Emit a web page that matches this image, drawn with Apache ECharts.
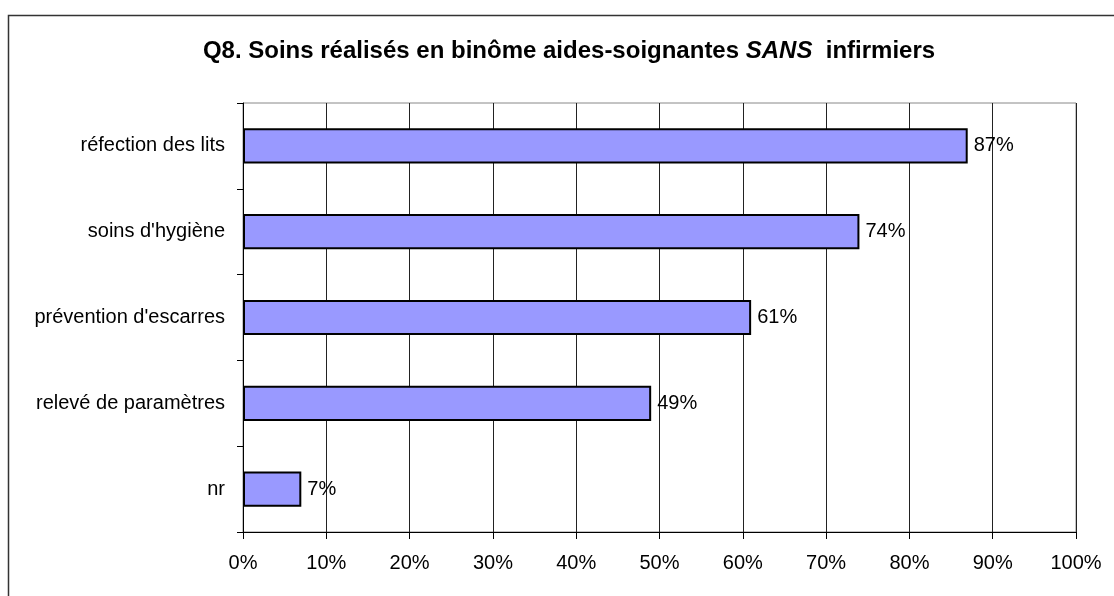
<!DOCTYPE html>
<html>
<head>
<meta charset="utf-8">
<script src="https://cdn.jsdelivr.net/npm/echarts@6/dist/echarts.min.js"></script>
<style>
html,body{margin:0;padding:0;background:#fff;}
#chart{width:1114px;height:596px;}
</style>
</head>
<body>
<div id="chart"></div>
<script>
const categories = ["réfection des lits", "soins d'hygiène", "prévention d'escarres", "relevé de paramètres", "nr"];
const values = [87, 74, 61, 49, 7];
const xTicks = [0, 10, 20, 30, 40, 50, 60, 70, 80, 90, 100];

const FONT = '"Liberation Sans", Arial, sans-serif';
const chart = echarts.init(document.getElementById('chart'));
chart.setOption({
  animation: false,
  backgroundColor: '#ffffff',
  title: {
    text: '{b|Q8. Soins réalisés en binôme aides-soignantes }{i|SANS}{b|  infirmiers}',
    left: 564,
    textAlign: 'center',
    top: 34,
    textStyle: {
      rich: {
        b: { fontFamily: FONT, fontWeight: 'bold', fontSize: 24, color: '#000' },
        i: { fontFamily: FONT, fontWeight: 'bold', fontStyle: 'italic', fontSize: 24, color: '#000' }
      }
    }
  },
  graphic: [{
    type: 'rect',
    shape: { x: 8.5, y: 15.5, width: 1200, height: 700 },
    style: { fill: null, stroke: '#333', lineWidth: 1.5 },
    silent: true
  }],
  grid: {
    left: 243, top: 103, right: 38, bottom: 64,
    show: true, borderColor: '#888', borderWidth: 1, backgroundColor: 'transparent'
  },
  xAxis: {
    type: 'value',
    min: xTicks[0], max: xTicks[xTicks.length - 1], interval: 10,
    axisLine: { show: true, lineStyle: { color: '#000', width: 1 } },
    axisTick: { show: true, length: 7, lineStyle: { color: '#000' } },
    axisLabel: { formatter: '{value}%', fontFamily: FONT, fontSize: 20, color: '#000', margin: 21 },
    splitLine: { show: true, lineStyle: { color: '#222', width: 1 } }
  },
  yAxis: {
    type: 'category',
    data: categories,
    inverse: true,
    axisLine: { show: true, lineStyle: { color: '#000', width: 1 } },
    axisTick: { show: true, length: 6, lineStyle: { color: '#000' } },
    axisLabel: { fontFamily: FONT, fontSize: 20, color: '#000', margin: 18 },
    splitLine: { show: false }
  },
  series: [{
    type: 'bar',
    data: values,
    barWidth: '41%',
    itemStyle: { color: '#9999FF', borderColor: '#000', borderWidth: 2 },
    label: {
      show: true, position: 'right', distance: 6,
      formatter: '{c}%', fontFamily: FONT, fontSize: 20, color: '#000'
    }
  }]
});
</script>
</body>
</html>
